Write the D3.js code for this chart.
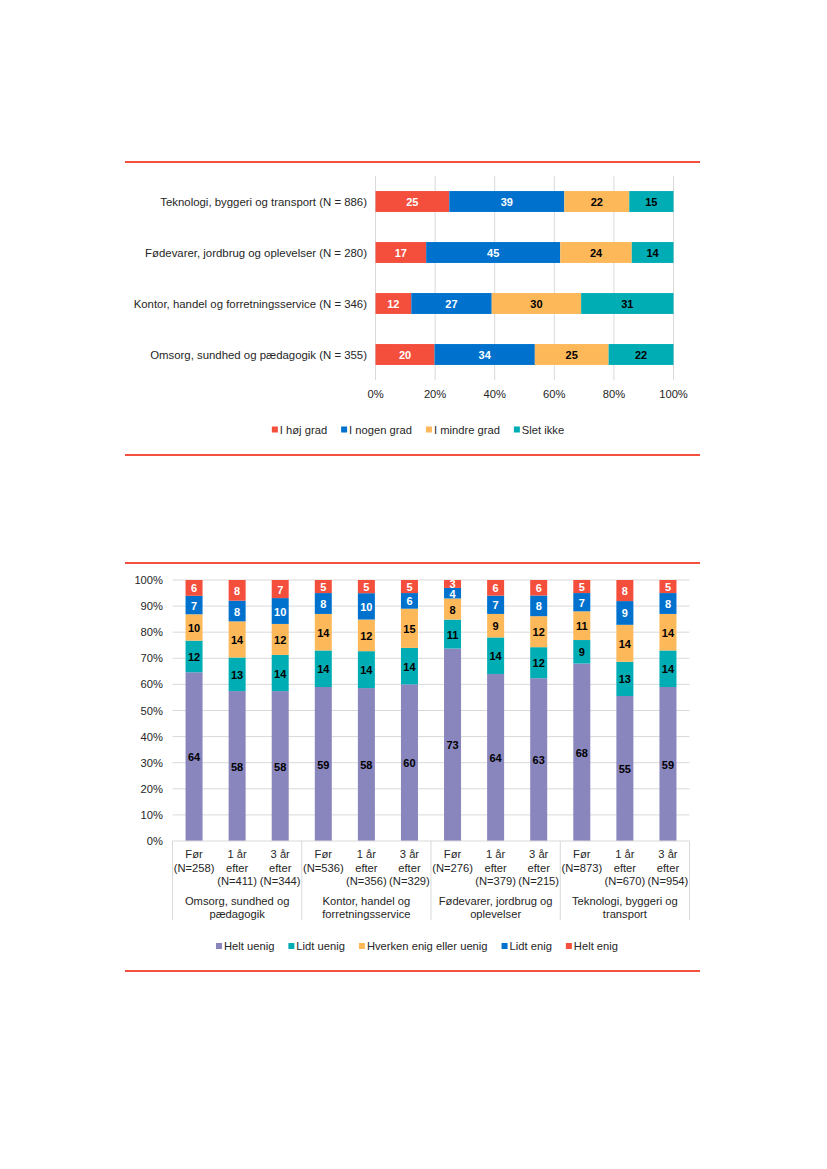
<!DOCTYPE html>
<html><head><meta charset="utf-8">
<script src="https://cdn.jsdelivr.net/npm/d3@7/dist/d3.min.js"></script>
<style>
html,body{margin:0;padding:0;background:#fff;}
svg text{font-family:"Liberation Sans",Arial,sans-serif;}
</style></head>
<body>
<svg id="c" width="827" height="1169"></svg>
<script>
// ---------- Data: chart 1 ----------
const topCategories = [
  "Teknologi, byggeri og transport (N = 886)",
  "Fødevarer, jordbrug og oplevelser (N = 280)",
  "Kontor, handel og forretningsservice (N = 346)",
  "Omsorg, sundhed og pædagogik (N = 355)"
];
const topSeries = ["I høj grad", "I nogen grad", "I mindre grad", "Slet ikke"];
const topHoj    = [25, 17, 12, 20];
const topNogen  = [39, 45, 27, 34];
const topMindre = [22, 24, 30, 25];
const topSlet   = [15, 14, 31, 22];
const topTicks  = ["0%", "20%", "40%", "60%", "80%", "100%"];

// ---------- Data: chart 2 ----------
const groups = [
  ["Omsorg, sundhed og", "pædagogik"],
  ["Kontor, handel og", "forretningsservice"],
  ["Fødevarer, jordbrug og", "oplevelser"],
  ["Teknologi, byggeri og", "transport"]
];
const periodLabels = [
  ["Før", "(N=258)"], ["1 år", "efter", "(N=411)"], ["3 år", "efter", "(N=344)"],
  ["Før", "(N=536)"], ["1 år", "efter", "(N=356)"], ["3 år", "efter", "(N=329)"],
  ["Før", "(N=276)"], ["1 år", "efter", "(N=379)"], ["3 år", "efter", "(N=215)"],
  ["Før", "(N=873)"], ["1 år", "efter", "(N=670)"], ["3 år", "efter", "(N=954)"]
];
const botSeries = ["Helt uenig", "Lidt uenig", "Hverken enig eller uenig", "Lidt enig", "Helt enig"];
const heltUenig = [64, 58, 58, 59, 58, 60, 73, 64, 63, 68, 55, 59];
const lidtUenig = [12, 13, 14, 14, 14, 14, 11, 14, 12, 9, 13, 14];
const hverken   = [10, 14, 12, 14, 12, 15, 8, 9, 12, 11, 14, 14];
const lidtEnig  = [7, 8, 10, 8, 10, 6, 4, 7, 8, 7, 9, 8];
const heltEnig  = [6, 8, 7, 5, 5, 5, 3, 6, 6, 5, 8, 5];
const yTicks = ["0%", "10%", "20%", "30%", "40%", "50%", "60%", "70%", "80%", "90%", "100%"];

// ---------- Styles ----------
const RED = "#F44E3D", BLUE = "#0072CE", ORANGE = "#FDB85A", TEAL = "#00ADB5", PURPLE = "#8985BD";
const GRID = "#d9d9d9", TXT = "#262626", LINE_RED = "#F4503F";

const svg = d3.select("#c");

function redLine(y){
  svg.append("line").attr("x1",125).attr("x2",700).attr("y1",y).attr("y2",y)
    .attr("stroke",LINE_RED).attr("stroke-width",2);
}

function legend(items, colors, cx, cy){
  const g = svg.append("g");
  const its = items.map((t,i)=>{
    const gi = g.append("g");
    gi.append("rect").attr("width",6).attr("height",6).attr("y",-3).attr("fill",colors[i]);
    const tx = gi.append("text").attr("x",8).attr("y",0).attr("dominant-baseline","central")
      .attr("font-size",11.2).attr("fill",TXT).text(t);
    return {gi, w: 8 + tx.node().getComputedTextLength()};
  });
  const gap = 14;
  const total = d3.sum(its, d=>d.w) + gap*(its.length-1);
  let x = cx - total/2;
  its.forEach(d=>{ d.gi.attr("transform",`translate(${x},${cy})`); x += d.w + gap; });
}

// ================= Chart 1 =================
redLine(162);
{
  const x = d3.scaleLinear().domain([0,1]).range([375.5, 673.5]);
  const y = d3.scaleBand().domain(topCategories).range([176, 380]).paddingInner(0.59).paddingOuter(0.295);
  const rows = topCategories.map((c,i)=>({cat:c, "I høj grad":topHoj[i], "I nogen grad":topNogen[i], "I mindre grad":topMindre[i], "Slet ikke":topSlet[i]}));
  const stack = d3.stack().keys(topSeries).offset(d3.stackOffsetExpand)(rows);
  const colors = [RED, BLUE, ORANGE, TEAL];
  const labelColors = ["#fff", "#fff", "#000", "#000"];

  // gridlines
  svg.append("g").selectAll("line").data(d3.range(0,1.0001,0.2)).join("line")
    .attr("x1",d=>x(d)).attr("x2",d=>x(d)).attr("y1",176).attr("y2",380)
    .attr("stroke",GRID).attr("stroke-width",1);

  stack.forEach((s,si)=>{
    const g = svg.append("g");
    g.selectAll("rect").data(s).join("rect")
      .attr("x",d=>x(d[0])).attr("width",d=>x(d[1])-x(d[0]))
      .attr("y",d=>y(d.data.cat)).attr("height",y.bandwidth()).attr("fill",colors[si]);
    g.selectAll("text").data(s).join("text")
      .attr("x",d=>(x(d[0])+x(d[1]))/2).attr("y",d=>y(d.data.cat)+y.bandwidth()/2+0.5)
      .attr("text-anchor","middle").attr("dominant-baseline","central")
      .attr("font-size",11).attr("font-weight","bold").attr("fill",labelColors[si])
      .text(d=>d.data[s.key]);
  });

  // category labels
  svg.append("g").selectAll("text").data(topCategories).join("text")
    .attr("x",367).attr("y",d=>y(d)+y.bandwidth()/2).attr("text-anchor","end")
    .attr("dominant-baseline","central").attr("font-size",11.4).attr("fill",TXT).text(d=>d);

  // x tick labels
  svg.append("g").selectAll("text").data(topTicks).join("text")
    .attr("x",(d,i)=>x(i*0.2)).attr("y",394).attr("text-anchor","middle")
    .attr("dominant-baseline","central").attr("font-size",11.2).attr("fill",TXT).text(d=>d);

  legend(topSeries, colors, 418, 429.5);
}
redLine(455);

// ================= Chart 2 =================
redLine(563);
{
  const keys = periodLabels.map((d,i)=>i);
  const x = d3.scaleBand().domain(keys).range([172.5, 689.5]);
  const y = d3.scaleLinear().domain([0,1]).range([841, 580]);
  const barW = 17;
  const rows = keys.map(i=>({i, "Helt uenig":heltUenig[i], "Lidt uenig":lidtUenig[i], "Hverken enig eller uenig":hverken[i], "Lidt enig":lidtEnig[i], "Helt enig":heltEnig[i]}));
  const stack = d3.stack().keys(botSeries).offset(d3.stackOffsetExpand)(rows);
  const colors = [PURPLE, TEAL, ORANGE, BLUE, RED];
  const labelColors = ["#000", "#000", "#000", "#fff", "#fff"];

  // gridlines
  svg.append("g").selectAll("line").data(d3.range(1,11).map(d=>d/10)).join("line")
    .attr("x1",172.5).attr("x2",689.5).attr("y1",d=>y(d)).attr("y2",d=>y(d))
    .attr("stroke",GRID).attr("stroke-width",1);
  // y labels
  svg.append("g").selectAll("text").data(yTicks).join("text")
    .attr("x",163).attr("y",(d,i)=>y(i/10)).attr("text-anchor","end")
    .attr("dominant-baseline","central").attr("font-size",11.2).attr("fill",TXT).text(d=>d);

  stack.forEach((s,si)=>{
    const g = svg.append("g");
    g.selectAll("rect").data(s).join("rect")
      .attr("x",d=>x(d.data.i)+x.bandwidth()/2-barW/2).attr("width",barW)
      .attr("y",d=>y(d[1])).attr("height",d=>y(d[0])-y(d[1])).attr("fill",colors[si]);
    g.selectAll("text").data(s).join("text")
      .attr("x",d=>x(d.data.i)+x.bandwidth()/2).attr("y",d=>(y(d[0])+y(d[1]))/2+0.5)
      .attr("text-anchor","middle").attr("dominant-baseline","central")
      .attr("font-size",11).attr("font-weight","bold").attr("fill",labelColors[si])
      .text(d=>d.data[s.key]);
  });

  // x axis line and separators
  svg.append("line").attr("x1",172.5).attr("x2",689.5).attr("y1",841).attr("y2",841)
    .attr("stroke",GRID).attr("stroke-width",1);
  svg.append("g").selectAll("line").data([0,3,6,9,12]).join("line")
    .attr("x1",d=>d<12 ? x(d) : 689.5).attr("x2",d=>d<12 ? x(d) : 689.5)
    .attr("y1",841).attr("y2",920).attr("stroke",GRID).attr("stroke-width",1);

  // period labels
  const pl = svg.append("g");
  periodLabels.forEach((lines,i)=>{
    lines.forEach((t,j)=>{
      pl.append("text").attr("x",x(i)+x.bandwidth()/2).attr("y",854+j*13.5)
        .attr("text-anchor","middle").attr("dominant-baseline","central")
        .attr("font-size",11.2).attr("fill",TXT).text(t);
    });
  });
  // group labels
  const gl = svg.append("g");
  groups.forEach((lines,gi)=>{
    const cx = (x(gi*3) + x(gi*3+2) + x.bandwidth())/2;
    lines.forEach((t,j)=>{
      gl.append("text").attr("x",cx).attr("y",901+j*12.5)
        .attr("text-anchor","middle").attr("dominant-baseline","central")
        .attr("font-size",11.2).attr("fill",TXT).text(t);
    });
  });

  legend(botSeries, colors, 417, 946);
}
redLine(971);
</script>
</body></html>
